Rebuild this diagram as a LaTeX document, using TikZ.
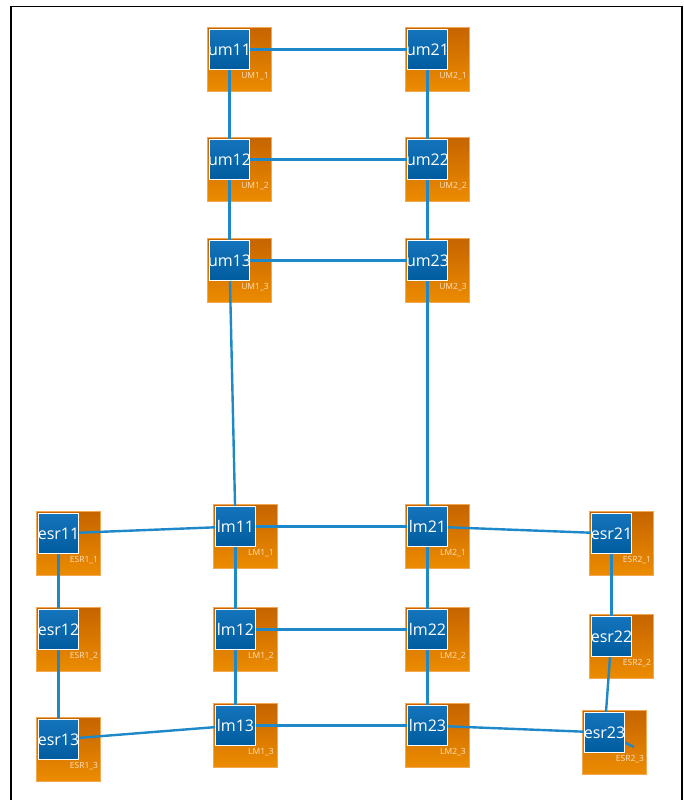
\documentclass[tikz,border=0pt]{standalone}
\usepackage{fontspec}
\setmainfont{Open Sans}
\pgfdeclarelayer{back}
\pgfdeclarelayer{bg}
\pgfdeclarelayer{edges}
\pgfsetlayers{back,bg,edges,main}
\definecolor{edgeblue}{HTML}{1E88C8}
\definecolor{boxtop}{HTML}{1474BC}
\definecolor{boxbot}{HTML}{005C9E}
\definecolor{ortop}{HTML}{C66400}
\definecolor{orbot}{HTML}{EC8C00}
\definecolor{orline}{HTML}{F2A850}
\definecolor{lbltext}{HTML}{FBE0C0}
\tikzset{
  orng/.style={draw=orline, line width=0.8pt, top color=ortop, bottom color=orbot, minimum width=64pt, minimum height=64pt, inner sep=0pt, anchor=north west},
  blu/.style={draw=white, line width=1pt, top color=boxtop, bottom color=boxbot, minimum width=40pt, minimum height=40pt, inner sep=0pt, anchor=north west, text=white, font=\fontsize{16}{17}\selectfont},
  lbl/.style={text=lbltext, font=\fontsize{8.5}{9}\selectfont, inner sep=0pt},
  edge/.style={draw=edgeblue, line width=2.4pt},
}
\newcommand\unitbox[5]{%
  \begin{pgfonlayer}{bg}
    \node[orng] (#1o) at (#2,#3) {};
  \end{pgfonlayer}
  \node[blu] (#1) at ({#2+2},{#3+2}) {\makebox[0pt]{#5}};
  \begin{pgfonlayer}{bg}
    \node[lbl] (#1l) at ({#2+48},{#3+49}) {#4};
  \end{pgfonlayer}
}
\begin{document}
\begin{tikzpicture}[x=1pt,y=-1pt]
\useasboundingbox (0,0) rectangle (684,800);
\begin{pgfonlayer}{back}
\fill[white] (0,0) rectangle (684,800);
\draw[black, line width=1.2pt] (11,806) -- (11,6.5) -- (682,6.5) -- (682,806);
\end{pgfonlayer}
\unitbox{um11}{207}{27}{UM1\_1}{um11}
\unitbox{um21}{405}{27}{UM2\_1}{um21}
\unitbox{um12}{207}{137}{UM1\_2}{um12}
\unitbox{um22}{405}{137}{UM2\_2}{um22}
\unitbox{um13}{207}{238}{UM1\_3}{um13}
\unitbox{um23}{405}{238}{UM2\_3}{um23}
\unitbox{lm11}{213}{504}{LM1\_1}{lm11}
\unitbox{lm21}{405}{504}{LM2\_1}{lm21}
\unitbox{lm12}{213}{607}{LM1\_2}{lm12}
\unitbox{lm22}{405}{607}{LM2\_2}{lm22}
\unitbox{lm13}{213}{703}{LM1\_3}{lm13}
\unitbox{lm23}{405}{703}{LM2\_3}{lm23}
\unitbox{esr11}{36}{511}{ESR1\_1}{esr11}
\unitbox{esr12}{36}{607}{ESR1\_2}{esr12}
\unitbox{esr13}{36}{717}{ESR1\_3}{esr13}
\unitbox{esr21}{589}{511}{ESR2\_1}{esr21}
\unitbox{esr22}{589}{614}{ESR2\_2}{esr22}
\unitbox{esr23}{582}{710}{ESR2\_3}{esr23}
\coordinate (stub) at (634,747);
\begin{pgfonlayer}{edges}
\draw[edge] (um11.center) -- (um21.center);
\draw[edge] (um12.center) -- (um22.center);
\draw[edge] (um13.center) -- (um23.center);
\draw[edge] (um11.center) -- (um12.center);
\draw[edge] (um12.center) -- (um13.center);
\draw[edge] (um21.center) -- (um22.center);
\draw[edge] (um22.center) -- (um23.center);
\draw[edge] (um13.center) -- (lm11.center);
\draw[edge] (um23.center) -- (lm21.center);
\draw[edge] (lm11.center) -- (lm21.center);
\draw[edge] (lm12.center) -- (lm22.center);
\draw[edge] (lm13.center) -- (lm23.center);
\draw[edge] (lm11.center) -- (lm12.center);
\draw[edge] (lm12.center) -- (lm13.center);
\draw[edge] (lm21.center) -- (lm22.center);
\draw[edge] (lm22.center) -- (lm23.center);
\draw[edge] (esr11.center) -- (lm11.center);
\draw[edge] (esr13.center) -- (lm13.center);
\draw[edge] (lm21.center) -- (esr21.center);
\draw[edge] (lm23.center) -- (esr23.center);
\draw[edge] (esr11.center) -- (esr12.center);
\draw[edge] (esr12.center) -- (esr13.center);
\draw[edge] (esr21.center) -- (esr22.center);
\draw[edge] (esr22.center) -- (esr23.center);
\draw[edge] (esr23.center) -- (stub);
\end{pgfonlayer}
\end{tikzpicture}
\end{document}
